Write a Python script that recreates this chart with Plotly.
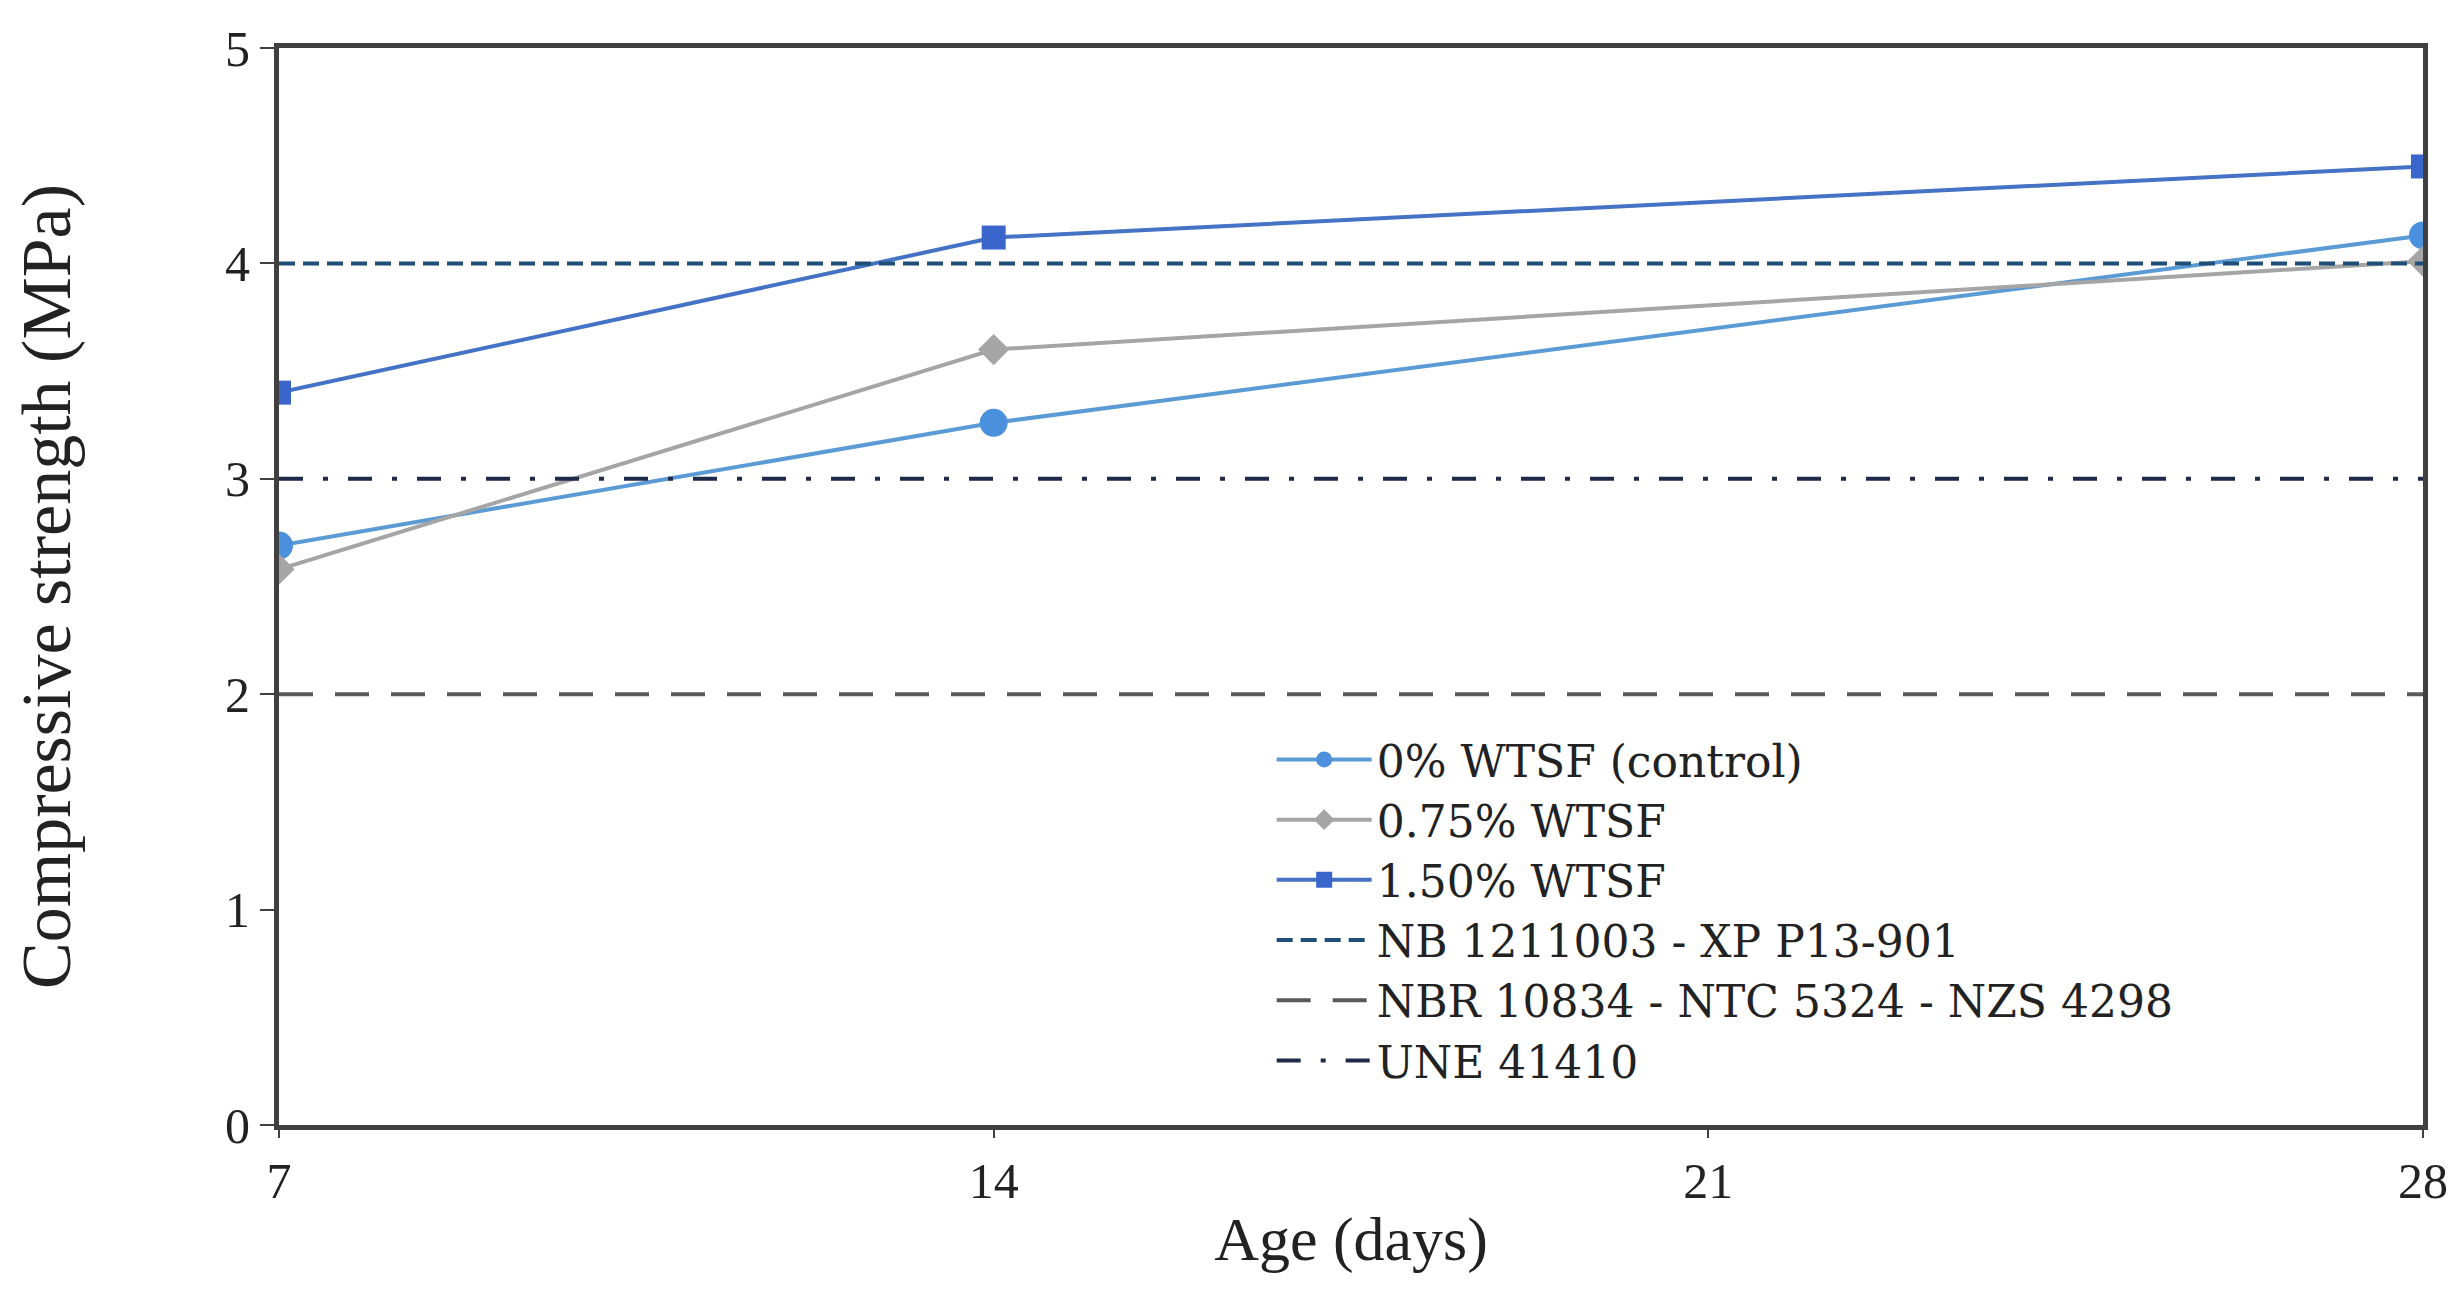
import plotly.graph_objects as go

ages = [7, 14, 28]
s0 = [2.69, 3.26, 4.13]
s075 = [2.58, 3.60, 4.01]
s150 = [3.40, 4.12, 4.45]

x_range = [7, 28]
x_ticks = [7, 14, 21, 28]
y_ticks = [0, 1, 2, 3, 4, 5]

series_names = ["0% WTSF (control)", "0.75% WTSF", "1.50% WTSF"]
std_names = ["NB 1211003 - XP P13-901", "NBR 10834 - NTC 5324 - NZS 4298", "UNE 41410"]
std_values = [4, 2, 3]
std_colors = ["#1F4E79", "#595959", "#1F2A4A"]
std_dash = ["16px,8px", "34px,22px", "24px,20px,5px,20px"]

font = "Liberation Serif"

fig = go.Figure()

fig.add_trace(go.Scatter(x=ages, y=s0, name=series_names[0], mode="lines+markers",
                         line=dict(color="#5B9BD5", width=4),
                         marker=dict(symbol="circle", size=28, color="#4A90DC")))
fig.add_trace(go.Scatter(x=ages, y=s075, name=series_names[1], mode="lines+markers",
                         line=dict(color="#A5A5A5", width=4),
                         marker=dict(symbol="diamond", size=24, color="#A5A5A5")))
fig.add_trace(go.Scatter(x=ages, y=s150, name=series_names[2], mode="lines+markers",
                         line=dict(color="#4472C4", width=4),
                         marker=dict(symbol="square", size=24, color="#3A66CC")))

for name, v, c, d in zip(std_names, std_values, std_colors, std_dash):
    fig.add_trace(go.Scatter(x=x_range, y=[v, v], name=name, mode="lines",
                             line=dict(color=c, width=4, dash=d)))

fig.update_layout(
    width=2463, height=1296,
    paper_bgcolor="white", plot_bgcolor="white",
    margin=dict(l=271, r=48, t=32, b=179),
    font=dict(family=font, color="#222222", size=46),
    showlegend=True,
    legend=dict(x=0.463, y=0.372, xanchor="left", yanchor="top",
                bgcolor="rgba(255,255,255,0)",
                font=dict(size=44, family="DejaVu Serif", color="#222222"),
                itemwidth=95, tracegroupgap=0),
)
fig.update_xaxes(range=x_range, tickvals=x_ticks, showgrid=False, zeroline=False,
                 showline=True, linewidth=5, linecolor="#404040", mirror=True,
                 ticks="outside", ticklen=8, tickwidth=2, tickcolor="#404040",
                 ticklabeloverflow="allow",
                 tickfont=dict(size=50, family=font),
                 title=dict(text="Age (days)", font=dict(size=62, family=font), standoff=10))
fig.update_yaxes(range=[0, 5], tickvals=y_ticks, showgrid=False, zeroline=False,
                 showline=True, linewidth=5, linecolor="#404040", mirror=True,
                 ticks="outside", ticklen=14, tickwidth=2, tickcolor="#404040",
                 ticklabeloverflow="allow",
                 tickfont=dict(size=50, family=font),
                 title=dict(text="Compressive strength (MPa)", font=dict(size=70, family=font), standoff=140))

fig.write_html("out.html")
